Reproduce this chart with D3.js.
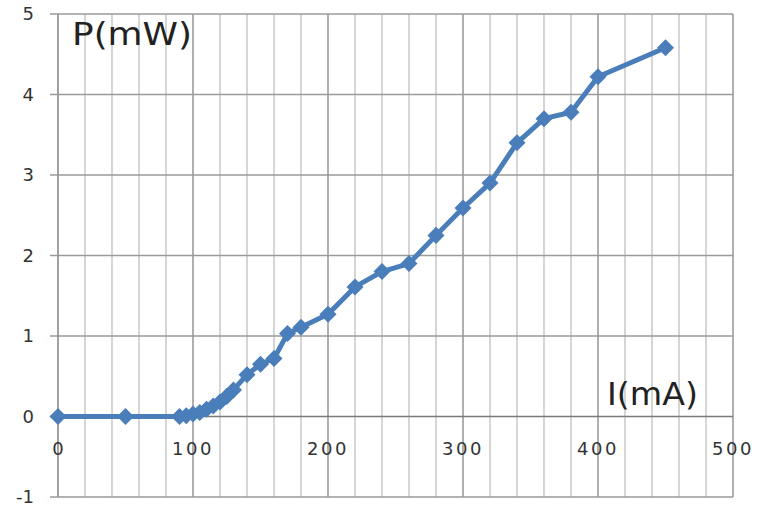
<!DOCTYPE html>
<html><head><meta charset="utf-8">
<script src="https://cdn.jsdelivr.net/npm/d3@7"></script>
<style>
html,body{margin:0;padding:0;background:#fff;}
svg{display:block;}
text{font-family:"DejaVu Sans",Verdana,sans-serif;fill:#333;}
</style></head>
<body>
<svg id="chart" width="758" height="508"></svg>
<script>
const currentMA = [0, 50, 90, 95, 100, 105, 110, 115, 120, 125, 130, 140, 150, 160, 170, 180, 200, 220, 240, 260, 280, 300, 320, 340, 360, 380, 400, 450];
const powerMW   = [0, 0, 0, 0.01, 0.03, 0.05, 0.09, 0.13, 0.18, 0.25, 0.33, 0.52, 0.65, 0.72, 1.03, 1.11, 1.27, 1.61, 1.80, 1.90, 2.25, 2.59, 2.90, 3.40, 3.70, 3.78, 4.22, 4.58];
const xTicks = [0, 100, 200, 300, 400, 500];
const yTicks = [-1, 0, 1, 2, 3, 4, 5];
const xMinorTicks = d3.range(0, 501, 20);
const yLabel = "P(mW)";
const xLabel = "I(mA)";

const svg = d3.select("#chart");
const x = d3.scaleLinear().domain([0, 500]).range([58, 733]);
const y = d3.scaleLinear().domain([-1, 5]).range([497, 14]);

const grid = svg.append("g");
grid.selectAll("line.minor").data(xMinorTicks.filter(d => d % 100 !== 0)).join("line")
  .attr("x1", d => x(d)).attr("x2", d => x(d)).attr("y1", y(5)).attr("y2", y(-1))
  .attr("stroke", "#c4c4c4").attr("stroke-width", 1.4);
grid.selectAll("line.major").data(xTicks).join("line")
  .attr("x1", d => x(d)).attr("x2", d => x(d)).attr("y1", y(5)).attr("y2", y(-1))
  .attr("stroke", d => d === 0 ? "#7a7a7a" : "#8e8e8e").attr("stroke-width", 1.4);
grid.selectAll("line.h").data(yTicks).join("line")
  .attr("x1", x(0) - 8).attr("x2", x(500)).attr("y1", d => y(d)).attr("y2", d => y(d))
  .attr("stroke", d => d === 0 ? "#7a7a7a" : "#9a9a9a").attr("stroke-width", 1.4);

svg.append("g").selectAll("text").data(yTicks).join("text")
  .attr("x", 34).attr("y", d => y(d)).attr("dy", "0.36em")
  .attr("text-anchor", "end").attr("font-size", 18)
  .text(d => d);

svg.append("g").selectAll("text").data(xTicks).join("text")
  .attr("x", d => x(d)).attr("y", 455)
  .attr("text-anchor", "middle").attr("font-size", 18)
  .attr("letter-spacing", d => String(d).length > 1 ? 2.5 : 0)
  .text(d => d);

const pts = currentMA.map((c, i) => [c, powerMW[i]]);
svg.append("path").datum(pts)
  .attr("fill", "none").attr("stroke", "#4a7ebb").attr("stroke-width", 5)
  .attr("stroke-linejoin", "round")
  .attr("d", d3.line().x(d => x(d[0])).y(d => y(d[1])));

const sym = d3.symbol().type(d3.symbolSquare).size(145);
svg.append("g").selectAll("path").data(pts).join("path")
  .attr("transform", d => `translate(${x(d[0])},${y(d[1])}) rotate(45)`)
  .attr("d", sym).attr("fill", "#4a7ebb");

svg.append("text").attr("x", 72).attr("y", 45)
  .attr("font-family", "'Liberation Sans',Arial,sans-serif")
  .attr("font-size", 32).attr("textLength", 120).attr("lengthAdjust", "spacingAndGlyphs")
  .style("fill", "#222").text(yLabel);
svg.append("text").attr("x", 607).attr("y", 405)
  .attr("font-family", "'Liberation Sans',Arial,sans-serif")
  .attr("font-size", 32).attr("textLength", 91).attr("lengthAdjust", "spacingAndGlyphs")
  .style("fill", "#222").text(xLabel);
</script>
</body></html>
